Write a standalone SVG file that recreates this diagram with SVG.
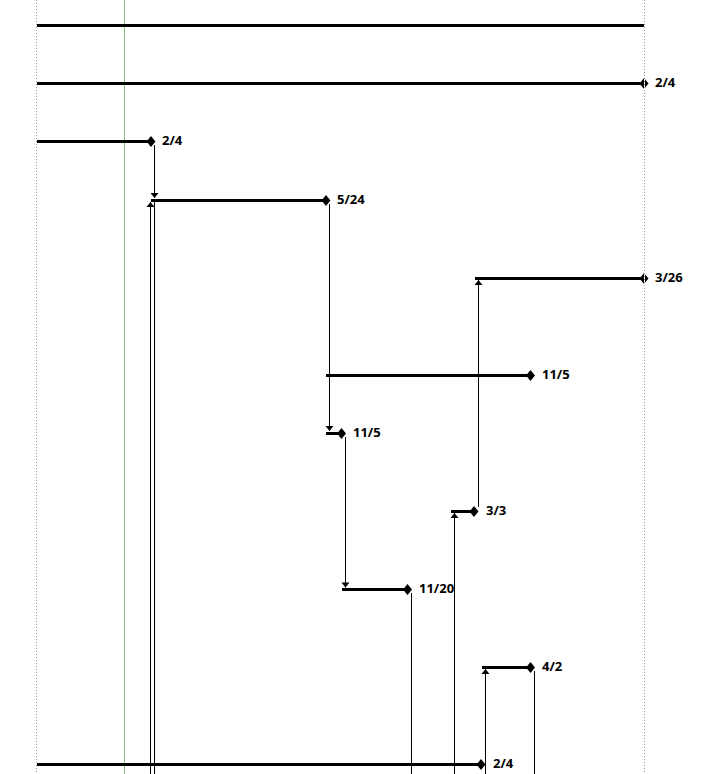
<svg xmlns="http://www.w3.org/2000/svg" width="709" height="774" viewBox="0 0 709 774">
<style>
.bar{stroke:#000;stroke-width:3;fill:none}
.con{stroke:#000;stroke-width:1;fill:none}
.lbl{font-family:"Open Sans","Noto Sans",sans-serif;font-weight:bold;font-size:13px;fill:#000}
.grid{stroke:#999;stroke-width:1;stroke-dasharray:1,2}
</style>
<defs>
<polygon id="dia" points="0,-5.5 4.5,0 0,5.5 -4.5,0" fill="#000"/>
<marker id="arr" markerUnits="userSpaceOnUse" markerWidth="9" markerHeight="9" viewBox="-5 -4.5 5 9" refX="0" refY="0" orient="auto">
<polygon points="0,0 -5,-4 -5,4" fill="#000"/>
</marker>
</defs>
<rect width="709" height="774" fill="#fff"/>
<line x1="124.5" y1="0" x2="124.5" y2="774" stroke="#80c07a" stroke-width="1"/>
<g id="connectors">
<line class="con" x1="154.5" y1="145" x2="154.5" y2="198" marker-end="url(#arr)"/>
<line class="con" x1="150.5" y1="774" x2="150.5" y2="202" marker-end="url(#arr)"/>
<line class="con" x1="154.5" y1="202" x2="154.5" y2="774"/>
<line class="con" x1="329.5" y1="204" x2="329.5" y2="431" marker-end="url(#arr)"/>
<line class="con" x1="345.5" y1="437" x2="345.5" y2="587.5" marker-end="url(#arr)"/>
<line class="con" x1="411.5" y1="593" x2="411.5" y2="774"/>
<line class="con" x1="454.5" y1="774" x2="454.5" y2="513" marker-end="url(#arr)"/>
<line class="con" x1="478.5" y1="507" x2="478.5" y2="280" marker-end="url(#arr)"/>
<line class="con" x1="485.5" y1="774" x2="485.5" y2="669" marker-end="url(#arr)"/>
<line class="con" x1="534.5" y1="671" x2="534.5" y2="774"/>
</g>
<g id="task1"><line class="bar" x1="37" y1="25.5" x2="644" y2="25.5"/></g>
<g id="task2"><line class="bar" x1="37" y1="83.5" x2="644" y2="83.5"/><use href="#dia" x="644" y="83.5"/><text class="lbl" x="655" y="86.5">2/4</text></g>
<g id="task3"><line class="bar" x1="37" y1="141.5" x2="151" y2="141.5"/><use href="#dia" x="151" y="141.5"/><text class="lbl" x="162" y="144.5">2/4</text></g>
<g id="task4"><line class="bar" x1="151" y1="200.5" x2="326" y2="200.5"/><use href="#dia" x="326" y="200.5"/><text class="lbl" x="337" y="203.5">5/24</text></g>
<g id="task5"><line class="bar" x1="475" y1="278.5" x2="644" y2="278.5"/><use href="#dia" x="644" y="278.5"/><text class="lbl" x="655" y="281.5">3/26</text></g>
<g id="task6"><line class="bar" x1="326" y1="375.5" x2="530.5" y2="375.5"/><use href="#dia" x="530.5" y="375.5"/><text class="lbl" x="542" y="378.5">11/5</text></g>
<g id="task7"><line class="bar" x1="326" y1="433.5" x2="341.5" y2="433.5"/><use href="#dia" x="341.5" y="433.5"/><text class="lbl" x="353" y="436.5">11/5</text></g>
<g id="task8"><line class="bar" x1="451" y1="511.5" x2="474" y2="511.5"/><use href="#dia" x="474" y="511.5"/><text class="lbl" x="486" y="514.5">3/3</text></g>
<g id="task9"><line class="bar" x1="342" y1="589.5" x2="407.5" y2="589.5"/><use href="#dia" x="407.5" y="589.5"/><text class="lbl" x="419" y="592.5">11/20</text></g>
<g id="task10"><line class="bar" x1="482" y1="667.5" x2="530.5" y2="667.5"/><use href="#dia" x="530.5" y="667.5"/><text class="lbl" x="542" y="670.5">4/2</text></g>
<g id="task11"><line class="bar" x1="37" y1="764.5" x2="481" y2="764.5"/><use href="#dia" x="481" y="764.5"/><text class="lbl" x="493" y="767.5">2/4</text></g>
<line x1="644.5" y1="0" x2="644.5" y2="774" stroke="#fff" stroke-width="1"/>
<line class="grid" x1="36.5" y1="0" x2="36.5" y2="774"/>
<line class="grid" x1="644.5" y1="0" x2="644.5" y2="774"/>
</svg>
